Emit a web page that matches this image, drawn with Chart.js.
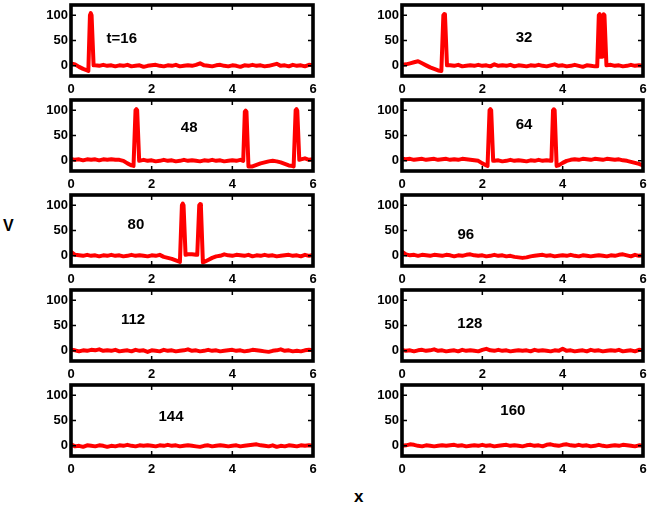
<!DOCTYPE html>
<html><head><meta charset="utf-8">
<script src="https://cdn.jsdelivr.net/npm/chart.js@4/dist/chart.umd.min.js"></script>
<style>
html,body{margin:0;padding:0;background:#fff;width:651px;height:507px;overflow:hidden;position:relative;font-family:"Liberation Sans",Arial,sans-serif;}
canvas{position:absolute;}
.lab{position:absolute;font-weight:bold;color:#000;line-height:1;}
</style></head><body>
<div class="lab" style="left:3px;top:218px;font-size:16px;">V</div>
<div class="lab" style="left:354px;top:488px;font-size:17px;">x</div>
<script>
// shared x grid (0 .. 6)
const xGrid = [0,0.1,0.2,0.3,0.4,0.5,0.6,0.7,0.8,0.9,
  1,1.1,1.2,1.3,1.4,1.5,1.6,1.7,1.8,1.9,
  2,2.1,2.2,2.3,2.4,2.5,2.6,2.7,2.8,2.9,
  3,3.1,3.2,3.3,3.4,3.5,3.6,3.7,3.8,3.9,
  4,4.1,4.2,4.3,4.4,4.5,4.6,4.7,4.8,4.9,
  5,5.1,5.2,5.3,5.4,5.5,5.6,5.7,5.8,5.9,
  6];
const xTicks = [0,2,4,6];
const yTicks = [0,50,100];
const panelLabels = ['t=16','32','48','64','80','96','112','128','144','160'];
const labelX = [1.26,3.04,2.93,3.04,1.61,1.59,1.54,1.69,2.48,2.76];
const labelY = [53,55,65,71,61,41,61,53,57,69];

// baseline values of V on xGrid for each time t
const v16 = [5,3,-2,-6,-9,0,1,0,2,0, 1,-1,1,0,2,-1,0,1,-2,0, 1,2,0,-1,1,0,2,-1,0,1, 0,2,5,1,0,-1,1,2,0,-1, 1,0,-2,1,0,2,0,1,-1,0, 2,4,0,1,-1,2,0,1,-1,2, 1];
const v32 = [2,3,5,7,9,5,1,-3,-6,-9, 0,0,1,0,2,-1,0,1,0,2, 0,1,-1,3,0,1,0,2,-1,1, 0,-1,1,0,2,0,-1,1,3,0, 1,-1,0,2,0,-2,1,0,-1,0, 0,1,2,0,1,-1,0,2,0,1, 0];
const v48 = [4,2,3,1,3,2,3,1,3,2, 3,2,2,0,-5,-9,0,0,2,0, 1,-1,0,2,0,1,-1,0,2,0, 1,0,-1,1,0,2,0,1,-1,0, 1,0,2,0,0,-11,-8,-5,-3,-1, 0,-1,-3,-6,-9,-10,0,3,5,2, 3];
const v64 = [5,3,4,2,3,4,2,3,4,2, 3,4,2,3,2,4,3,2,1,0, -5,-9,0,0,1,-1,0,2,0,1, 0,-1,1,0,2,0,1,0,0,-9, -4,0,2,3,2,4,3,2,4,3, 2,4,3,2,3,1,0,-2,-4,-6, -9];
const v80 = [8,2,1,0,2,0,1,-1,1,0, 2,0,1,-1,0,2,0,1,0,-1, 1,0,2,-2,-4,-6,-9,0,0,3, 3,2,0,-12,-8,-4,-1,0,3,1, 0,2,1,0,2,-1,1,0,2,0, 1,-1,0,1,2,0,1,-1,2,0, 2];
const v96 = [8,3,1,2,0,2,1,0,2,1, 0,2,1,-1,1,0,2,3,1,0, 1,-1,0,2,0,1,-1,0,-2,-3, -4,-3,-1,0,1,2,0,1,-1,0, 1,0,2,0,-1,1,0,-1,0,1, 0,-1,1,0,2,3,1,-1,2,0, 1];
const v112 = [2,1,-1,1,0,2,1,3,0,1, 0,2,-1,0,1,-1,2,0,1,-2, 1,0,-1,2,0,1,-1,0,1,3, 0,1,-1,0,2,0,1,-1,0,1, 2,0,1,-1,0,2,1,0,-1,-2, 0,1,3,0,1,-1,0,-1,1,2, 1];
const v128 = [2,0,1,-1,1,2,0,1,3,0, 1,-1,0,1,-1,2,0,1,0,-1, 2,4,1,0,2,0,1,-1,0,1, 0,1,-1,2,0,1,0,-1,1,0, 4,0,1,-1,0,1,-1,2,0,1, -1,0,1,0,2,-1,0,1,-1,2, 1];
const v144 = [3,-1,0,-2,1,0,-1,1,0,-2, 0,-1,1,0,2,0,-1,1,0,1, 0,-1,1,0,2,0,1,-1,0,1, 0,-1,-2,0,1,-1,0,1,0,-1, 0,1,-1,0,1,2,3,1,0,-1, 1,-2,0,-1,1,0,-1,1,0,1, 0];
const v160 = [0,1,3,2,0,-1,1,0,-1,0, 1,0,1,2,0,1,-1,0,1,0, 2,0,1,-1,0,1,2,0,1,0, -1,1,2,0,1,-1,2,3,1,0, 2,3,1,0,2,0,1,-1,0,2, 0,-1,0,1,0,2,1,0,-1,1, 0];

// spike segments [x, V]
const s16 = [[[0.43,-10],[0.47,100],[0.49,104],[0.51,100],[0.56,1]]];
const s32 = [[[0.98,-10],[1.03,100],[1.05,102],[1.07,100],[1.12,1]],
             [[4.86,-1],[4.9,100],[4.92,102],[4.95,18],[4.99,18],[5.02,102],[5.04,100],[5.09,1]]];
const s48 = [[[1.55,-10],[1.6,100],[1.62,102],[1.64,100],[1.69,0]],
             [[4.27,0],[4.31,97],[4.33,99],[4.35,97],[4.4,-11]],
             [[5.52,-11],[5.57,100],[5.59,102],[5.61,99],[5.66,2]]];
const s64 = [[[2.13,-10],[2.18,100],[2.2,102],[2.22,100],[2.27,0]],
             [[3.72,0],[3.76,100],[3.78,102],[3.8,100],[3.85,-10]]];
const s80 = [[[2.7,-12],[2.75,100],[2.77,103],[2.79,100],[2.84,2]],
             [[3.13,2],[3.18,100],[3.2,102],[3.22,99],[3.27,-13]]];
const s0 = [];

const bases = [v16,v32,v48,v64,v80,v96,v112,v128,v144,v160];
const spikes = [s16,s32,s48,s64,s80,s0,s0,s0,s0,s0];

function buildPoints(base, segs) {
  const pts = [];
  xGrid.forEach((x, i) => {
    const inside = segs.some(seg => x >= seg[0][0] - 1e-9 && x <= seg[seg.length-1][0] + 1e-9);
    if (!inside) pts.push({x: x, y: base[i]});
  });
  segs.forEach(seg => seg.forEach(p => pts.push({x: p[0], y: p[1]})));
  pts.sort((a, b) => a.x - b.x);
  return pts;
}

const colLeft = [71, 402], colWidth = [242, 241];
const rowTop = [5, 100, 195, 290, 385], boxH = 71;
const PADL = 50, PADT = 4, PADR = 8, XH = 22;
const FONT = '"Liberation Sans", Arial, Helvetica, sans-serif';

function makeFrame(i) {
  return {
    id: 'frame' + i,
    afterDatasetsDraw(chart) {
      const ctx = chart.ctx, a = chart.chartArea, xs = chart.scales.x, ys = chart.scales.y;
      ctx.save();
      ctx.strokeStyle = '#000';
      ctx.lineWidth = 1.5;
      ctx.beginPath();
      xTicks.slice(1, -1).forEach(v => {
        const px = xs.getPixelForValue(v);
        ctx.moveTo(px, a.top); ctx.lineTo(px, a.top + 5);
        ctx.moveTo(px, a.bottom); ctx.lineTo(px, a.bottom - 5);
      });
      yTicks.forEach(v => {
        const py = ys.getPixelForValue(v);
        ctx.moveTo(a.left, py); ctx.lineTo(a.left + 5, py);
        ctx.moveTo(a.right, py); ctx.lineTo(a.right - 5, py);
      });
      ctx.stroke();
      ctx.lineWidth = 3.6;
      ctx.lineJoin = 'miter';
      ctx.strokeRect(a.left, a.top, a.right - a.left, a.bottom - a.top);
      ctx.font = 'bold 15px ' + FONT;
      ctx.fillStyle = '#000';
      ctx.textAlign = 'center';
      ctx.textBaseline = 'middle';
      ctx.fillText(panelLabels[i], xs.getPixelForValue(labelX[i]), ys.getPixelForValue(labelY[i]));
      ctx.restore();
    }
  };
}

for (let i = 0; i < 10; i++) {
  const col = i % 2, row = Math.floor(i / 2);
  const cv = document.createElement('canvas');
  const W = colWidth[col] + PADL + PADR, H = boxH + PADT + XH;
  cv.width = W; cv.height = H;
  cv.style.left = (colLeft[col] - PADL) + 'px';
  cv.style.top = (rowTop[row] - PADT) + 'px';
  cv.style.width = W + 'px'; cv.style.height = H + 'px';
  document.body.appendChild(cv);
  new Chart(cv, {
    type: 'line',
    data: { datasets: [{
      data: buildPoints(bases[i], spikes[i]),
      borderColor: '#ff0000',
      borderWidth: 4,
      pointRadius: 0,
      tension: 0,
      borderJoinStyle: 'round',
      borderCapStyle: 'round',
      fill: false
    }]},
    options: {
      responsive: false,
      animation: false,
      devicePixelRatio: 1,
      layout: { padding: { left: 0, top: PADT, right: PADR, bottom: 0 } },
      plugins: { legend: { display: false }, tooltip: { enabled: false } },
      scales: {
        x: {
          type: 'linear', min: 0, max: 6,
          grid: { display: false, drawTicks: false },
          border: { display: false },
          afterBuildTicks: s => { s.ticks = xTicks.map(v => ({ value: v })); },
          afterFit: s => { s.height = XH; s.paddingLeft = 0; s.paddingRight = 0; },
          ticks: { padding: 6, color: '#000', maxRotation: 0, font: { family: FONT, size: 13, weight: 'bold' } }
        },
        y: {
          type: 'linear', min: -20, max: 120,
          grid: { display: false, drawTicks: false },
          border: { display: false },
          afterBuildTicks: s => { s.ticks = yTicks.map(v => ({ value: v })); },
          afterFit: s => { s.width = PADL; s.paddingTop = 0; s.paddingBottom = 0; },
          ticks: { padding: 3, color: '#000', font: { family: FONT, size: 13, weight: 'bold' } }
        }
      }
    },
    plugins: [makeFrame(i)]
  });
}
</script>
</body></html>
